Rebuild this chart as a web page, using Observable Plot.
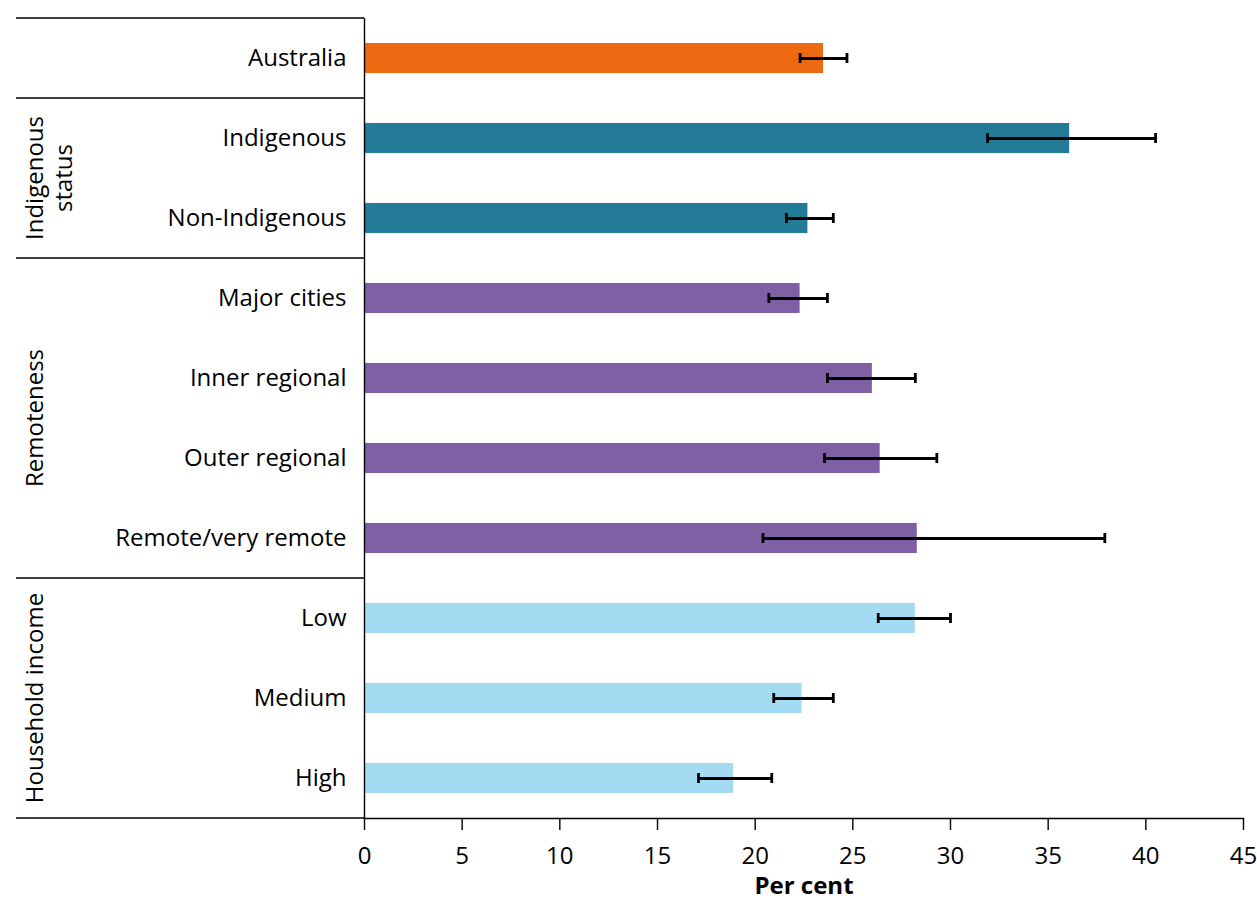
<!DOCTYPE html>
<html><head><meta charset="utf-8">
<script src="https://cdn.jsdelivr.net/npm/d3@7"></script>
<script src="https://cdn.jsdelivr.net/npm/@observablehq/plot@0.6"></script>
<style>body{margin:0;background:#fff;font-family:"Open Sans",sans-serif}</style>
</head><body><div id="chart"></div>
<script>
const categories = ["Australia","Indigenous","Non-Indigenous","Major cities","Inner regional","Outer regional","Remote/very remote","Low","Medium","High"];
const groupOf = ["Australia","Indigenous status","Indigenous status","Remoteness","Remoteness","Remoteness","Remoteness","Household income","Household income","Household income"];
const values = [23.5, 36.1, 22.7, 22.3, 26.0, 26.4, 28.3, 28.2, 22.4, 18.9];
const lower  = [22.3, 31.9, 21.6, 20.7, 23.7, 23.55, 20.4, 26.3, 20.95, 17.1];
const upper  = [24.7, 40.5, 24.0, 23.7, 28.2, 29.3, 37.9, 30.0, 24.0, 20.85];
const groupNames  = ["Australia","Indigenous status","Remoteness","Household income"];
const groupLabels = ["", "Indigenous\nstatus", "Remoteness", "Household income"];
const groupColors = ["#EC6912","#247B98","#7F60A5","#A4DBF3"];
const xTicks = [0,5,10,15,20,25,30,35,40,45];
const xLabel = "Per cent";

const rows = categories.map((c,i)=>({cat:c, group:groupOf[i], value:values[i], lo:lower[i], hi:upper[i]}));

const FONT = "Open Sans";
const FS = 24;
const panelLeft = 16;

function groupPanel(index, scales, values, dimensions) {
  const y = scales.y;
  const gap = (y.step() - y.bandwidth()) / 2;
  const g = d3.create("svg:g");
  const x2 = dimensions.marginLeft;
  groupNames.forEach((gn, gi) => {
    const members = categories.filter((c,i)=>groupOf[i]===gn);
    const top = y(members[0]) - gap;
    const bottom = y(members[members.length-1]) + y.bandwidth() + gap;
    g.append("line").attr("x1", panelLeft).attr("x2", x2).attr("y1", top).attr("y2", top)
      .attr("stroke", "#000").attr("stroke-width", 1.4);
    if (gi === groupNames.length-1) {
      g.append("line").attr("x1", panelLeft).attr("x2", x2).attr("y1", bottom).attr("y2", bottom)
        .attr("stroke", "#000").attr("stroke-width", 1.4);
    }
    const label = groupLabels[gi];
    if (label) {
      const cy = (top + bottom) / 2;
      const lines = label.split("\n");
      const lh = 29;
      const t = g.append("text")
        .attr("transform", `translate(${panelLeft + 19},${cy}) rotate(-90)`)
        .attr("text-anchor", "middle")
        .attr("font-family", FONT).attr("font-size", FS).attr("fill", "#000");
      lines.forEach((ln, li) => {
        t.append("tspan").attr("x", 0).attr("y", li*lh).attr("dy", "0.35em").text(ln);
      });
    }
  });
  return g.node();
}

const chart = Plot.plot({
  width: 1257,
  height: 904,
  marginLeft: 364,
  marginRight: 14,
  marginTop: 18,
  marginBottom: 86,
  style: {fontFamily: FONT, fontSize: FS + "px", color: "#000", background: "#fff"},
  x: {domain: [0, 45], ticks: xTicks, label: null},
  y: {domain: categories, paddingInner: 0.625, paddingOuter: 0.3125, label: null},
  color: {domain: groupNames, range: groupColors},
  marks: [
    Plot.barX(rows, {x: "value", y: "cat", fill: "group"}),
    Plot.ruleY(rows, {x1: "lo", x2: "hi", y: "cat", stroke: "#000", strokeWidth: 2.8}),
    Plot.tickX(rows, {x: "lo", y: "cat", stroke: "#000", strokeWidth: 2.8, insetTop: 10, insetBottom: 10}),
    Plot.tickX(rows, {x: "hi", y: "cat", stroke: "#000", strokeWidth: 2.8, insetTop: 10, insetBottom: 10}),
    Plot.ruleX([0], {stroke: "#000", strokeWidth: 1.4}),
    Plot.frame({anchor: "bottom", stroke: "#000", strokeWidth: 1.4}),
    Plot.axisX({ticks: xTicks, tickSize: 12, tickPadding: 16, label: null, fontSize: FS, stroke: "#000", strokeWidth: 1.4}),
    Plot.axisY({tickSize: 0, tickPadding: 18, label: null, fontSize: FS}),
    Plot.text([xLabel], {frameAnchor: "bottom", lineAnchor: "middle", dy: 68, text: d => d, fontWeight: "bold", fontSize: FS, fill: "#000"}),
    groupPanel
  ]
});
document.getElementById("chart").appendChild(chart);
</script>
</body></html>
